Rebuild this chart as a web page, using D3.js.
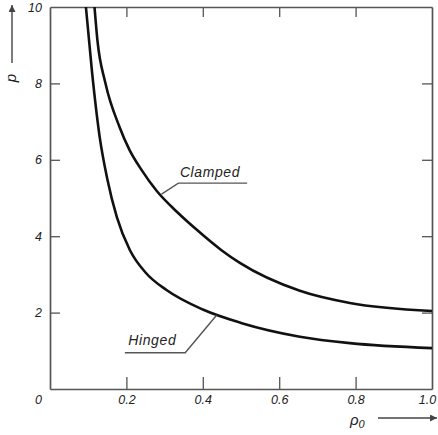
<!DOCTYPE html>
<html>
<head>
<meta charset="utf-8">
<script src="https://cdn.jsdelivr.net/npm/d3@7"></script>
<style>
  body { margin: 0; background: #fff; }
  text { font-family: "Liberation Sans", Arial, sans-serif; font-style: italic; fill: #222; }
</style>
</head>
<body>
<script>
var WIDTH = 438;
var HEIGHT = 435;

// values
var xTicks = [0, 0.2, 0.4, 0.6, 0.8, 1.0];
var xTickLabels = ["0", "0.2", "0.4", "0.6", "0.8", "1.0"];
var yTicks = [2, 4, 6, 8, 10];

var hingedRho = [0.094, 0.11, 0.13, 0.15, 0.175, 0.209, 0.25, 0.305, 0.40, 0.50, 0.654, 0.785, 1.0];
var hingedP   = [10.0, 8.3, 6.6, 5.5, 4.5, 3.64, 3.05, 2.59, 2.08, 1.73, 1.37, 1.20, 1.07];

var clampedRho = [0.1165, 0.124, 0.145, 0.182, 0.208, 0.240, 0.279, 0.332, 0.385, 0.448, 0.497, 0.654, 0.785, 1.0];
var clampedP   = [10.0, 9.14, 8.01, 6.86, 6.26, 5.73, 5.19, 4.64, 4.16, 3.64, 3.30, 2.57, 2.25, 2.04];

var margin = {left: 50, right: 6, top: 7, bottom: 46};

var svg = d3.select("body")
  .append("svg")
  .attr("width", WIDTH)
  .attr("height", HEIGHT);

var x = d3.scaleLinear().domain([0, 1]).range([margin.left, WIDTH - margin.right]);
var y = d3.scaleLinear().domain([0, 10]).range([HEIGHT - margin.bottom, margin.top]);

var axisColor = "#555";

function styleAxis(g) {
  g.select(".domain").attr("stroke", axisColor).attr("stroke-width", 1.7);
  g.selectAll(".tick line").attr("stroke", axisColor).attr("stroke-width", 1.3);
  g.selectAll("text").attr("font-size", 12.5).attr("fill", "#222")
    .attr("font-family", "Liberation Sans, Arial, sans-serif").attr("font-style", "italic");
}

// bottom axis with inward ticks and labels
var bottomAxis = svg.append("g")
  .attr("transform", "translate(0," + y(0) + ")")
  .call(d3.axisBottom(x).tickValues(xTicks).tickSizeInner(-12).tickSizeOuter(0).tickPadding(6)
    .tickFormat(function (d, i) { return xTickLabels[i]; }));
styleAxis(bottomAxis);
bottomAxis.selectAll(".tick").filter(function (d) { return d === 0 || d === 1; }).select("line").remove();
bottomAxis.selectAll(".tick").filter(function (d) { return d === 0; }).select("text").attr("dx", -12);
bottomAxis.selectAll(".tick").filter(function (d) { return d === 1; }).select("text").attr("dx", -5);

// left axis
var leftAxis = svg.append("g")
  .attr("transform", "translate(" + x(0) + ",0)")
  .call(d3.axisLeft(y).tickValues(yTicks).tickSizeInner(-10).tickSizeOuter(0).tickPadding(8));
styleAxis(leftAxis);
leftAxis.selectAll(".tick").filter(function (d) { return d === 10; }).select("line").remove();

// top and right frame, ticks pointing in, no labels
var topAxis = svg.append("g")
  .attr("transform", "translate(0," + y(10) + ")")
  .call(d3.axisTop(x).tickValues(xTicks.slice(1, 5)).tickSizeInner(-10).tickSizeOuter(0).tickFormat(""));
styleAxis(topAxis);

var rightAxis = svg.append("g")
  .attr("transform", "translate(" + x(1) + ",0)")
  .call(d3.axisRight(y).tickValues(yTicks.slice(0, 4)).tickSizeInner(-10).tickSizeOuter(0).tickFormat(""));
styleAxis(rightAxis);

// curves
var line = d3.line()
  .x(function (d) { return x(d[0]); })
  .y(function (d) { return y(d[1]); })
  .curve(d3.curveMonotoneX);

var hinged = hingedRho.map(function (r, i) { return [r, hingedP[i]]; });
var clamped = clampedRho.map(function (r, i) { return [r, clampedP[i]]; });

[hinged, clamped].forEach(function (d) {
  svg.append("path")
    .datum(d)
    .attr("fill", "none")
    .attr("stroke", "#111")
    .attr("stroke-width", 2.6)
    .attr("d", line);
});

// curve labels with leader lines (underline + pointer)
function label(txt, tx, ty, pts) {
  svg.append("text")
    .attr("x", tx).attr("y", ty)
    .attr("font-size", 14)
    .attr("letter-spacing", 0.6)
    .text(txt);
  svg.append("path")
    .attr("fill", "none")
    .attr("stroke", axisColor)
    .attr("stroke-width", 1.4)
    .attr("d", d3.line()(pts.map(function (p) { return [x(p[0]), y(p[1])]; })));
}

label("Clamped", x(0.34), y(5.55), [[0.516, 5.39], [0.336, 5.39], [0.292, 5.10]]);
label("Hinged", x(0.205), y(1.15), [[0.196, 0.95], [0.354, 0.95], [0.436, 1.93]]);

// axis titles with arrows
var defs = svg.append("defs");
defs.append("marker")
  .attr("id", "arrow")
  .attr("viewBox", "0 0 10 10")
  .attr("refX", 10).attr("refY", 5)
  .attr("markerWidth", 14).attr("markerHeight", 7)
  .attr("markerUnits", "userSpaceOnUse")
  .attr("orient", "auto")
  .append("path")
  .attr("d", "M0,0L10,5L0,10Z")
  .attr("fill", "#444");

svg.append("line")
  .attr("x1", 12).attr("y1", 63).attr("x2", 12).attr("y2", 5)
  .attr("stroke", "#444").attr("stroke-width", 1.4)
  .attr("marker-end", "url(#arrow)");
svg.append("text")
  .attr("transform", "translate(16,78) rotate(-90)")
  .attr("text-anchor", "middle")
  .attr("font-size", 15)
  .text("p");

var xt = svg.append("text")
  .attr("x", 350).attr("y", 425)
  .attr("font-size", 15);
xt.append("tspan").text("ρ");
xt.append("tspan").attr("font-size", 11).attr("dy", 3).text("0");

svg.append("line")
  .attr("x1", 378).attr("y1", 418).attr("x2", 437).attr("y2", 418)
  .attr("stroke", "#444").attr("stroke-width", 1.4)
  .attr("marker-end", "url(#arrow)");
</script>
</body>
</html>
